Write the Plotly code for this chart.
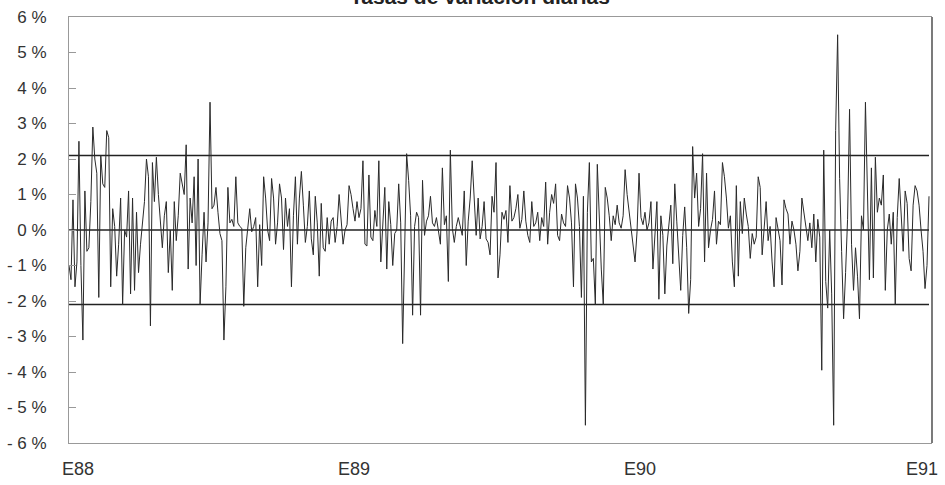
import plotly.graph_objects as go

title_text = "Tasas de variación diarias"

# daily rates of change (%), read left to right from the picture (Jan 1988 - Dec 1990)
seg_1988a = [-1.0, -1.4, 0.85, -1.6, -0.9, 2.5, -1.0, -3.1, 1.1, -0.6, -0.5, 0.8, 2.9, 2.0, 1.6, -1.9,
             2.1, 1.3, 1.2, 2.8, 2.6, -1.6, 0.6, 0.1, -1.3, -0.4, 0.9, -2.1, 0.0, -0.2, 1.1, -1.8,
             0.9, -1.7, 0.5, -1.2, -0.4, 0.3, 0.8, 2.0, 1.5, -2.7, 1.9, 0.8, 2.05, 1.0, 0.1, -0.5,
             0.4, 0.8, -1.2, 0.0, -1.7, 0.8, -0.3, 0.4, 1.6, 1.3, 1.0, 2.4, -1.1, 0.9, 0.2, 1.5,
             -1.0, 2.0, -2.1, -0.7, 0.5, -0.9, 0.2, 3.6, 0.6, 0.7]
seg_1988b = [1.2, 0.5, -0.1, -0.3, -3.1, -1.6, 1.2, 0.2, 0.3, 0.1, 1.5, 0.2, 0.1, 0.05, -2.15, -0.5,
             0.0, 0.6, -0.05, 0.1, 0.35, -1.6, 0.15, -1.0, 1.5, 0.9, 0.0, -0.3, 1.45, 0.9, -0.4, 0.2,
             1.3, 0.9, -0.55, 0.9, 0.1, 0.6, -1.6, 0.4, 1.5, -0.4, 0.9, 1.65, 0.7, -0.35, 0.1, 1.1,
             -0.25, -0.7, 0.95, 0.2, -1.3, 0.75, -0.5, -0.6, 0.35, -0.4, 0.25, 0.35, -0.35, 0.1, 1.0,
             0.25, -0.4, 0.0, 0.15, 1.25, 1.0, 0.6, 0.25, 0.8, 0.35]
seg_1989a = [0.6, 1.95, -0.4, -0.45, 1.55, -0.2, -0.3, 0.55, 0.1, 1.95, -0.9, 0.25, 1.2, -1.1, 0.8,
             0.15, -1.0, -0.1, 0.0, 1.3, 0.2, -3.2, 0.05, 2.15, 1.4, 0.4, -2.4, 0.1, 0.5, 0.35, -2.4,
             1.4, -0.15, 0.25, 0.4, 0.95, 0.2, 0.1, 0.35, -0.1, -0.4, 1.75, 0.15, 0.4, -1.45, 2.25,
             0.05, -0.35, 0.1, 0.35, 0.05, -0.15, 1.1, -1.0, 0.25, 0.9, 1.95, 0.7, -0.15, 0.9, -0.25,
             0.1, 0.8, -0.25, -0.35, -0.7, 0.95, 0.5, 1.9, -1.35, -0.7, 0.5, 0.3]
seg_1989b = [0.55, -0.35, 1.25, 0.25, 0.35, 0.6, 1.0, 0.05, 0.3, 1.1, 0.25, -0.15, -0.35, 0.8, 0.1,
             0.2, 0.5, -0.3, 0.35, 0.1, 1.35, -0.4, 0.5, 1.0, 0.75, 1.3, -0.15, -0.3, 0.45, 0.2, 0.1,
             1.25, 0.9, 0.2, -1.6, 1.3, 0.9, 0.1, -1.9, 0.95, -5.5, 0.5, 1.9, -0.9, -0.8, -2.1, 1.85,
             0.05, -1.1, -2.1, 1.2, 0.9, 0.4, -0.3, 0.4, 0.15, 0.7, 0.2, 0.05, 0.4, 1.7, 1.0, 0.5,
             0.15, -0.4, -0.9, -0.05, 1.6, 0.35, 0.15, 0.5, 0.0, 0.2]
seg_1990a = [0.8, -1.1, -0.05, 0.8, -1.95, 0.4, -0.15, -1.8, -0.45, 0.1, 0.7, -0.95, 1.3, 0.25, -0.9,
             -1.7, -0.15, 0.65, -0.5, -2.35, -1.4, 2.35, 0.9, 1.6, 0.1, 0.6, 2.15, -0.9, 1.6, -0.5,
             0.0, 0.3, 1.1, -0.4, 0.25, 0.15, 1.9, 1.5, 0.9, 0.05, 0.4, -0.9, -1.6, 1.25, -1.3, 0.8,
             -0.1, 0.9, 0.45, 0.1, -0.8, -0.1, -0.4, -0.2, 1.5, 1.2, -0.7, -0.05, 0.8, -0.3, 0.1,
             -0.9, -1.6, 0.35, -0.05, -0.3, -1.55, 0.85, 0.6, 0.45, -0.4, 0.25, 0.0]
seg_1990b = [-0.4, -1.15, -0.6, 0.9, 0.5, 0.05, -0.3, 0.2, -0.5, 0.45, -0.9, 0.3, -0.2, -3.95, 2.25,
             -1.45, -2.2, 0.0, -1.8, -5.5, 2.8, 5.5, 1.45, -0.6, -2.5, -1.2, 0.3, 3.4, -0.4, -1.7,
             -0.5, -1.3, -2.5, 0.4, 0.0, 3.6, 0.8, -1.4, 1.75, -1.35, 2.05, 0.5, 0.9, 0.7, 1.55, -1.7,
             0.0, 0.45, -0.4, 0.5, -2.1, 0.35, 1.45, 0.3, -0.6, 1.1, 0.75, -0.8, -1.15, 0.7, 1.25,
             1.1, 0.7, 0.0, -0.6, -1.65, -1.0, 0.95]

rates = seg_1988a + seg_1988b + seg_1989a + seg_1989b + seg_1990a + seg_1990b

band_levels = [2.1, 0.0, -2.1]          # upper limit, mean, lower limit (%)

x_labels = ["E88", "E89", "E90", "E91"]
y_ticks = [6, 5, 4, 3, 2, 1, 0, -1, -2, -3, -4, -5, -6]
y_labels = [f"{v} %" if v >= 0 else f"- {abs(v)} %" for v in y_ticks]

n = len(rates)
xs = list(range(n))

# figure geometry
W, H = 945, 485
L, R, T, B = 69, 13, 17, 42
plot_w = W - L - R
data_end_px = 929
x_max = (n - 1) * plot_w / (data_end_px - L)
label_px = [78, 354, 640, 922]
tick_pos = [(p - L) / plot_w * x_max for p in label_px]

fig = go.Figure()

for lvl in band_levels:
    fig.add_trace(go.Scatter(x=[xs[0], xs[-1]], y=[lvl, lvl], mode="lines",
                             line=dict(color="#222", width=1.4), hoverinfo="skip",
                             showlegend=False))

fig.add_trace(go.Scatter(x=xs, y=rates, mode="lines",
                         line=dict(color="#2a2a2a", width=1), showlegend=False))

font_family = "Liberation Sans, Arial, sans-serif"

fig.update_layout(
    template="none",
    width=W, height=H,
    margin=dict(l=L, r=R, t=T, b=B, autoexpand=False),
    paper_bgcolor="white", plot_bgcolor="white",
    showlegend=False,
    font=dict(family=font_family, color="#333"),
    xaxis=dict(range=[0, x_max], tickvals=tick_pos, ticktext=x_labels, automargin=False,
               showgrid=False, zeroline=False, showline=True, linecolor="#999",
               linewidth=1, mirror=True, ticks="", ticklabelstandoff=9,
               tickfont=dict(size=18, color="#333", family=font_family)),
    yaxis=dict(range=[-6, 6], tickvals=y_ticks, ticktext=y_labels, automargin=False,
               showgrid=False, zeroline=False, showline=True, linecolor="#999",
               linewidth=1, ticks="inside", ticklen=7, tickcolor="#999",
               ticklabelstandoff=18,
               tickfont=dict(size=17, color="#333", family=font_family)),
)

fig.add_shape(type="line", xref="paper", yref="paper", x0=1, x1=1, y0=0, y1=1,
              line=dict(color="#222", width=1.2))

fig.add_annotation(text="<b>" + title_text + "</b>", xref="paper", yref="paper",
                   x=(480 - L) / plot_w, y=1, xanchor="center", yanchor="bottom",
                   yshift=8, showarrow=False, borderpad=0,
                   font=dict(size=21, color="#222", family=font_family))

fig.write_html("out.html",
               config={"displayModeBar": False},
               post_script="document.body.style.margin='0';document.body.style.overflow='hidden';")
